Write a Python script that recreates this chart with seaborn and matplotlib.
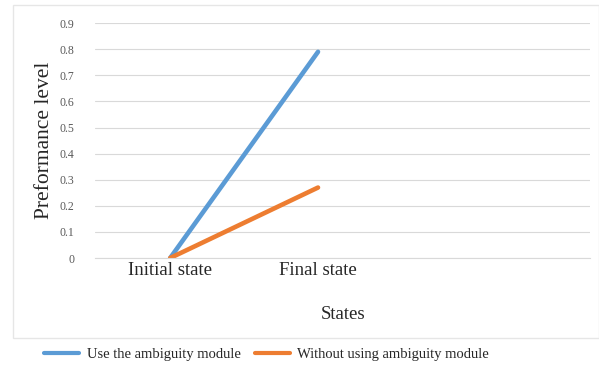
import pandas as pd
import seaborn as sns
import matplotlib.pyplot as plt
from matplotlib.patches import Rectangle

states = ["Initial state", "Final state"]
with_module = [0.0, 0.79]
without_module = [0.0, 0.27]
series_names = ["Use the ambiguity module", "Without using ambiguity module"]
y_ticks = [0, 0.1, 0.2, 0.3, 0.4, 0.5, 0.6, 0.7, 0.8, 0.9]

df = pd.DataFrame({
    "state": states * 2,
    "value": with_module + without_module,
    "series": [series_names[0]] * 2 + [series_names[1]] * 2,
})

sns.set_theme(style="white")
plt.rcParams['font.family'] = ['Liberation Serif', 'DejaVu Serif']

fig = plt.figure(figsize=(5.99, 3.67), dpi=100)
ax = fig.add_axes([0.159, 0.297, 0.826, 0.64])

sns.lineplot(data=df, x="state", y="value", hue="series", ax=ax,
             palette=["#5B9BD5", "#ED7D31"], linewidth=3.3, legend=False,
             solid_capstyle="round")

ax.set_ylim(0, 0.9)
ax.set_xlim(-0.507, 2.84)
ax.set_yticks(y_ticks)
ax.set_yticklabels([f"{t:g}" for t in y_ticks], fontsize=8.5, color="#595959")
ax.tick_params(axis="x", labelsize=13.5, colors="#262626", pad=3, length=0)
ax.tick_params(axis="y", length=0, pad=15)
ax.grid(axis="y", color="#d9d9d9", linewidth=0.8)
ax.set_axisbelow(True)
for s in ["top", "right", "left"]:
    ax.spines[s].set_visible(False)
ax.spines["bottom"].set_color("#d9d9d9")
ax.spines["bottom"].set_linewidth(0.8)

ax.set_ylabel("Preformance level", fontsize=15.5, color="#262626", labelpad=4)
ax.set_xlabel("States", fontsize=13.5, color="#262626", labelpad=19)

handles = [plt.Line2D([], [], color=c, linewidth=3) for c in ["#5B9BD5", "#ED7D31"]]
fig.legend(handles, series_names, loc="center left", bbox_to_anchor=(0.052, 0.033),
           ncol=2, frameon=False, fontsize=10.5, handlelength=2.4,
           handletextpad=0.5, columnspacing=1.0)

fig.patches.append(Rectangle((0.021, 0.08), 0.979, 0.906, transform=fig.transFigure,
                             fill=False, edgecolor="#e6e6e6", linewidth=1))

plt.savefig("out.png", dpi=100)
